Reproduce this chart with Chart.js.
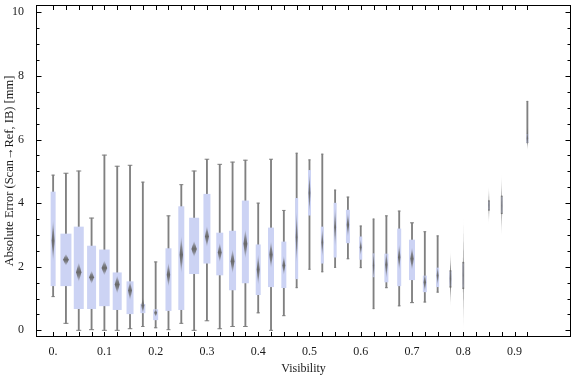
<!DOCTYPE html>
<html>
<head>
<meta charset="utf-8">
<script src="https://cdn.jsdelivr.net/npm/chart.js@4/dist/chart.umd.min.js"></script>
<style>
  html, body { margin: 0; padding: 0; background: #fff; }
  #wrap { width: 576px; height: 377px; }
</style>
</head>
<body>
<div id="wrap"><canvas id="myChart"></canvas></div>
<script>
// visibility bins (0.825 and 0.9 have no data)
const visibility = [0, 0.025, 0.05, 0.075, 0.1, 0.125, 0.15, 0.175, 0.2, 0.225, 0.25, 0.275,
  0.3, 0.325, 0.35, 0.375, 0.4, 0.425, 0.45, 0.475, 0.5, 0.525, 0.55, 0.575,
  0.6, 0.625, 0.65, 0.675, 0.7, 0.725, 0.75, 0.775, 0.8, 0.85, 0.875, 0.925];
const whiskerLow = [1.06, 0.22, 0.0, 0.02, 0.0, 0.0, 0.05, 0.12, 0.08, 0.02, 0.22, 0.0,
  0.3, 0.05, 0.12, 0.12, 0.55, 0.0, 0.46, 1.34, 1.92, 1.84, 1.98, 2.25,
  1.97, 0.68, 1.34, 0.77, 0.87, 0.89, 1.2, 1.36, 1.31, 3.78, 3.67, 5.9];
const q1 = [1.39, 1.39, 0.67, 0.67, 0.76, 0.64, 0.51, 0.54, 0.32, 0.61, 0.64, 1.77,
  2.1, 1.73, 1.26, 1.48, 1.11, 1.36, 1.33, 1.61, 3.61, 2.1, 2.29, 2.74,
  2.22, 1.67, 1.51, 1.39, 1.58, 1.2, 1.36, 1.4, 1.35, 3.8, 3.7, 5.9];
const q3 = [4.36, 3.04, 3.26, 2.66, 2.54, 1.82, 1.54, 0.83, 0.66, 2.58, 3.9, 3.54,
  4.29, 3.07, 3.13, 4.08, 2.7, 3.23, 2.79, 4.16, 5.04, 3.26, 4.01, 3.79,
  2.95, 2.42, 2.41, 3.2, 2.85, 1.72, 1.97, 1.85, 2.1, 4.05, 4.2, 6.17];
const whiskerHigh = [4.88, 4.94, 5.01, 3.53, 5.51, 5.16, 5.19, 4.66, 2.15, 3.6, 4.58, 5.01,
  5.38, 5.22, 5.29, 5.35, 4.0, 5.38, 3.77, 5.57, 5.36, 5.54, 4.41, 4.19,
  3.28, 3.5, 3.6, 3.75, 3.38, 3.1, 2.97, 1.87, 2.14, 4.07, 4.22, 7.2];
const means = [2.82, 2.22, 1.83, 1.67, 1.96, 1.44, 1.25, 0.78, 0.55, 1.75, 2.38, 2.56,
  2.95, 2.45, 2.17, 2.72, 1.91, 2.38, 2.04, 2.93, 4.32, 2.77, 3.24, 3.32,
  2.61, 2.04, 2.06, 2.3, 2.25, 1.51, 1.72, 1.62, 1.75, 3.94, 3.92, 6.04];
const meanErr = [0.68, 0.19, 0.31, 0.21, 0.24, 0.29, 0.31, 0.26, 0.13, 0.39, 0.6, 0.26,
  0.34, 0.31, 0.39, 0.47, 0.5, 0.44, 0.31, 0.84, 0.65, 0.47, 0.63, 0.39,
  0.26, 0.57, 0.44, 0.42, 0.37, 0.31, 0.31, 0.89, 1.8, 0.6, 1.0, 0.39];
const xTickLabels = [0, 0.1, 0.2, 0.3, 0.4, 0.5, 0.6, 0.7, 0.8, 0.9];
const yTickLabels = [0, 2, 4, 6, 8, 10];

// box widths in px (Mathematica scales them by sample count)
const boxWidth = [5, 11, 10, 9, 10.5, 9, 7, 5, 5, 6, 6, 10,
  7, 7, 7, 7, 5, 6, 5, 3, 3, 3, 3, 4,
  3, 2, 4, 4, 6, 4, 3, 2, 1, 1, 1, 2];

const BOX = "rgb(204, 211, 244)";
const GREY = "rgb(128, 128, 128)";
const FONT = { family: "'Liberation Serif', 'DejaVu Serif', serif", size: 12 };

const capRadius = (ctx) => Math.min(2.5, boxWidth[ctx.dataIndex] * 0.3 + 0.2);

const boxWidths = {
  id: "boxWidths",
  afterDatasetUpdate(chart, args) {
    if (args.index === 0) {
      args.meta.data.forEach((el, i) => { el.width = boxWidth[i]; });
    }
  },
};

const diamonds = {
  id: "diamonds",
  afterDatasetsDraw(chart) {
    const { ctx, scales: { x, y } } = chart;
    ctx.save();
    visibility.forEach((v, i) => {
      const px = x.getPixelForValue(v);
      const top = y.getPixelForValue(means[i] + meanErr[i]);
      const bot = y.getPixelForValue(means[i] - meanErr[i]);
      const cy = y.getPixelForValue(means[i]);
      const hw = boxWidth[i] / 4 + 0.2;
      const g = ctx.createLinearGradient(0, top, 0, bot);
      g.addColorStop(0, "rgba(105,105,105,0)");
      g.addColorStop(0.3, "rgba(105,105,105,0.75)");
      g.addColorStop(0.5, "rgba(105,105,105,1)");
      g.addColorStop(0.7, "rgba(105,105,105,0.75)");
      g.addColorStop(1, "rgba(105,105,105,0)");
      ctx.fillStyle = g;
      ctx.beginPath();
      ctx.moveTo(px, top);
      ctx.lineTo(px + hw, cy);
      ctx.lineTo(px, bot);
      ctx.lineTo(px - hw, cy);
      ctx.closePath();
      ctx.fill();
    });
    ctx.restore();
  },
};

// frame with inward ticks on all four sides
const frame = {
  id: "frame",
  afterDraw(chart) {
    const { ctx, chartArea: a, scales: { x, y } } = chart;
    ctx.save();
    ctx.strokeStyle = "#000";
    ctx.lineWidth = 1;
    ctx.strokeRect(a.left + 0.5, a.top + 0.5, a.right - a.left - 1, a.bottom - a.top - 1);
    ctx.beginPath();
    for (let k = 0; k <= 37; k++) {
      const px = Math.round(x.getPixelForValue(k * 0.025)) + 0.5;
      ctx.moveTo(px, a.bottom - 1); ctx.lineTo(px, a.bottom - 5);
      ctx.moveTo(px, a.top + 1); ctx.lineTo(px, a.top + 5);
    }
    for (let k = 0; k <= 20; k++) {
      const py = Math.round(y.getPixelForValue(k * 0.5)) + 0.5;
      const len = k % 4 === 0 ? 4.5 : 2.5;
      ctx.moveTo(a.left + 1, py); ctx.lineTo(a.left + 1 + len, py);
      ctx.moveTo(a.right - 1, py); ctx.lineTo(a.right - 1 - len, py);
    }
    ctx.stroke();
    ctx.restore();
  },
};

const ctx = document.getElementById("myChart").getContext("2d");
new Chart(ctx, {
  type: "bar",
  data: {
    datasets: [
      {
        type: "bar",
        data: visibility.map((v, i) => ({ x: v, y: [q1[i], q3[i]] })),
        backgroundColor: BOX,
        borderWidth: 0,
        grouped: false,
        order: 1,
      },
      {
        type: "bar",
        data: visibility.map((v, i) => ({ x: v, y: [whiskerLow[i], whiskerHigh[i]] })),
        backgroundColor: GREY,
        borderWidth: 0,
        barThickness: 1.2,
        grouped: false,
        order: 3,
      },
      {
        type: "scatter",
        data: visibility.map((v, i) => ({ x: v, y: whiskerLow[i] })),
        pointStyle: "line",
        radius: capRadius,
        borderColor: GREY,
        borderWidth: 1,
        order: 2,
      },
      {
        type: "scatter",
        data: visibility.map((v, i) => ({ x: v, y: whiskerHigh[i] })),
        pointStyle: "line",
        radius: capRadius,
        borderColor: GREY,
        borderWidth: 1,
        order: 2,
      },
    ],
  },
  options: {
    responsive: true,
    maintainAspectRatio: false,
    animation: false,
    layout: { padding: { top: 4, right: 0, left: 0, bottom: 0 } },
    plugins: { legend: { display: false }, tooltip: { enabled: false } },
    scales: {
      x: {
        type: "linear",
        min: -0.0334,
        max: 1.0101,
        offset: false,
        grid: { display: false },
        border: { display: false },
        afterBuildTicks: (s) => { s.ticks = xTickLabels.map((v) => ({ value: v })); },
        afterFit: (s) => { s.height = 40; s.paddingLeft = 0; s.paddingRight = 0; },
        ticks: {
          autoSkip: false,
          maxRotation: 0,
          padding: 0,
          color: "#1a1a1a",
          font: FONT,
          callback: (v) => (v === 0 ? "0." : v.toFixed(1)),
        },
        title: { display: true, text: "Visibility", color: "#1a1a1a", font: FONT, padding: { top: 0, bottom: 1 } },
      },
      y: {
        type: "linear",
        min: -0.21,
        max: 10.23,
        grid: { display: false },
        border: { display: false },
        afterBuildTicks: (s) => { s.ticks = yTickLabels.map((v) => ({ value: v })); },
        afterFit: (s) => { s.width = 36; s.paddingTop = 0; s.paddingBottom = 0; },
        ticks: { padding: 4, color: "#1a1a1a", font: FONT },
        title: {
          display: true,
          text: "Absolute Error (Scan\u2192Ref, IB) [mm]",
          color: "#1a1a1a",
          font: { family: FONT.family, size: 12.5 },
          padding: { top: 2, bottom: 0 },
        },
      },
    },
  },
  plugins: [boxWidths, diamonds, frame],
});
</script>
</body>
</html>
